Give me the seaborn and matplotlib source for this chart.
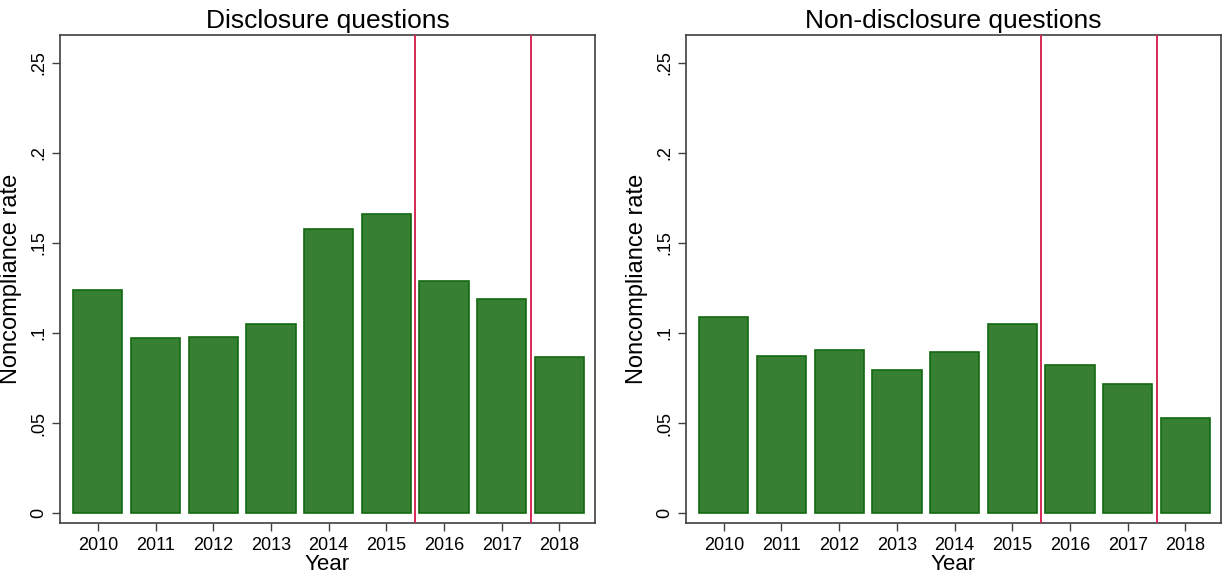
import pandas as pd
import seaborn as sns
import matplotlib.pyplot as plt
import matplotlib.ticker as mticker

# values
years = [2010, 2011, 2012, 2013, 2014, 2015, 2016, 2017, 2018]
disclosure = [0.1237, 0.0975, 0.0978, 0.1050, 0.1576, 0.1663, 0.1290, 0.1190, 0.0866]
non_disclosure = [0.1091, 0.0871, 0.0908, 0.0794, 0.0893, 0.1050, 0.0821, 0.0716, 0.0530]
titles = ['Disclosure questions', 'Non-disclosure questions']
y_ticks = [0, 0.05, 0.1, 0.15, 0.2, 0.25]
y_tick_labels = ['0', '.05', '.1', '.15', '.2', '.25']
cut_years = [2015.5, 2017.5]

sns.set_theme(style='white')
plt.rcParams['font.family'] = ['Liberation Sans', 'DejaVu Sans']
plt.rcParams['text.color'] = 'black'
plt.rcParams['axes.labelcolor'] = 'black'
plt.rcParams['xtick.color'] = 'black'
plt.rcParams['ytick.color'] = 'black'

bar_fill = '#367f33'
bar_edge = '#12690f'
line_red = '#d42a55'
spine_col = '#404040'

fig = plt.figure(figsize=(12.25, 5.75), dpi=100)
positions = [0.049, 0.560]

for i, vals in enumerate([disclosure, non_disclosure]):
    ax = fig.add_axes([positions[i], 0.0899, 0.4367, 0.8497])
    df = pd.DataFrame({'Year': [str(y) for y in years], 'rate': vals})
    sns.barplot(data=df, x='Year', y='rate', color=bar_fill, saturation=1,
                edgecolor=bar_edge, linewidth=1.2, width=0.855, ax=ax)
    # vertical reference lines between categories
    for c in cut_years:
        ax.axvline(c - years[0], color=line_red, linewidth=1.4, zorder=3)
    ax.set_xlim(-0.655, 8.617)
    ax.set_ylim(-0.00555, 0.2655)
    ax.set_yticks(y_ticks)
    ax.set_yticklabels(y_tick_labels, rotation=90, va='center')
    ax.yaxis.set_minor_locator(mticker.NullLocator())
    ax.tick_params(axis='both', which='major', direction='out', length=6,
                   width=1, color=spine_col, labelsize=13, left=True, bottom=True)
    ax.tick_params(axis='y', pad=3)
    ax.tick_params(axis='x', pad=4)
    for s in ax.spines.values():
        s.set_color(spine_col)
        s.set_linewidth(1.2)
    ax.set_xlabel('Year', fontsize=16, labelpad=0)
    ax.set_ylabel('Noncompliance rate', fontsize=17, labelpad=6)
    ax.set_title(titles[i], fontsize=19, pad=5)

fig.savefig('out.png', dpi=100)
